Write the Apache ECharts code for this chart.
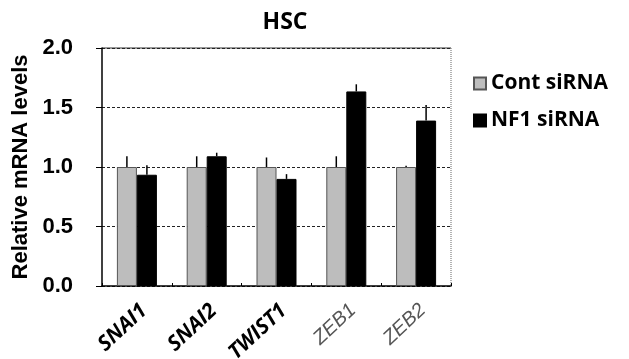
<!DOCTYPE html>
<html><head><meta charset="utf-8">
<script src="https://cdn.jsdelivr.net/npm/echarts@6/dist/echarts.min.js"></script>
<style>html,body{margin:0;padding:0;background:#fff}#c{width:629px;height:359px}</style>
</head><body><div id="c"></div>
<script>
var categories = ['SNAI1', 'SNAI2', 'TWIST1', 'ZEB1', 'ZEB2'];
var contValues = [1.0, 1.0, 1.0, 1.0, 1.0];
var contErrors = [0.09, 0.09, 0.08, 0.09, 0.01];
var nf1Values = [0.935, 1.09, 0.90, 1.635, 1.39];
var nf1Errors = [0.08, 0.03, 0.04, 0.06, 0.13];
var yTicks = [0, 0.5, 1.0, 1.5, 2.0];
var seriesNames = ['Cont siRNA', 'NF1 siRNA'];

var chart = echarts.init(document.getElementById('c'));
function errSeries(vals, errs, sign) {
  return {
    type: 'custom',
    z: 1,
    silent: true,
    data: vals.map(function (v, i) { return [i, v, v + errs[i]]; }),
    renderItem: function (params, api) {
      var i = api.value(0);
      var p0 = api.coord([i, api.value(1)]);
      var p1 = api.coord([i, api.value(2)]);
      var x = p0[0] + sign * 10;
      return { type: 'line', shape: { x1: x, y1: p0[1], x2: x, y2: p1[1] },
        style: { stroke: '#000', lineWidth: 1.5 } };
    }
  };
}
var italicBold = { fontStyle: 'italic', fontWeight: 'bold', color: '#000', fontFamily: 'Open Sans', fontSize: 21 };
var italicGrey = { fontStyle: 'italic', fontWeight: 'normal', color: '#555', fontFamily: 'Liberation Sans', fontSize: 20 };
chart.setOption({
  animation: false,
  title: { text: 'HSC', left: 280, textAlign: 'center', top: 6,
    textStyle: { fontFamily: 'Open Sans', fontWeight: 'bold', fontSize: 23, color: '#000' } },
  legend: {
    orient: 'vertical', left: 468, top: 68, itemGap: 16, itemWidth: 12, itemHeight: 12,
    icon: 'rect',
    data: seriesNames,
    textStyle: { fontFamily: 'Open Sans', fontWeight: 'bold', fontSize: 21, color: '#000' }
  },
  grid: { left: 102, right: 178, top: 48, bottom: 73, containLabel: false, outerBoundsMode: 'none' },
  xAxis: {
    type: 'category', data: categories,
    axisLine: { lineStyle: { color: '#000', width: 1.5 } },
    axisTick: { show: true, inside: true, length: 3, lineStyle: { color: '#000' } },
    axisLabel: {
      rotate: 43, margin: 14, interval: 0, align: 'right', verticalAlign: 'top',
      formatter: function (v) { return v.indexOf('ZEB') === 0 ? '{g|' + v + '}' : '{b|' + v + '}'; },
      rich: { b: italicBold, g: italicGrey }
    }
  },
  yAxis: {
    type: 'value', min: 0, max: 2, interval: 0.5,
    name: 'Relative mRNA levels', nameLocation: 'middle', nameGap: 58,
    nameTextStyle: { fontFamily: 'Liberation Sans', fontWeight: 'bold', fontSize: 22, color: '#000' },
    axisLine: { show: true, lineStyle: { color: '#000', width: 1.5 } },
    axisTick: { show: true, length: 6, lineStyle: { color: '#000' } },
    axisLabel: { margin: 29, fontFamily: 'Liberation Sans', fontWeight: 'bold', fontSize: 22, color: '#000',
      formatter: function (v) { return yTicks.indexOf(v) >= 0 ? v.toFixed(1) : ''; } },
    splitLine: { show: true, lineStyle: { color: '#222', type: [3, 2], width: 1 } }
  },
  series: [
    { name: seriesNames[0], type: 'bar', data: contValues, barWidth: 20, barGap: '0%', z: 2,
      itemStyle: { color: '#bdbdbd', borderColor: '#555', borderWidth: 1 } },
    { name: seriesNames[1], type: 'bar', data: nf1Values, barWidth: 20, z: 2,
      itemStyle: { color: '#000', borderColor: '#000', borderWidth: 1 } },
    errSeries(contValues, contErrors, -1),
    errSeries(nf1Values, nf1Errors, 1)
  ],
  graphic: [
    { type: 'line', shape: { x1: 102, y1: 48, x2: 451, y2: 48 }, style: { stroke: '#333', lineWidth: 1 }, z: 0 },
    { type: 'line', shape: { x1: 451, y1: 48, x2: 451, y2: 286 }, style: { stroke: '#666', lineWidth: 1, lineDash: [1, 1] }, z: 0 }
  ]
});
</script></body></html>
